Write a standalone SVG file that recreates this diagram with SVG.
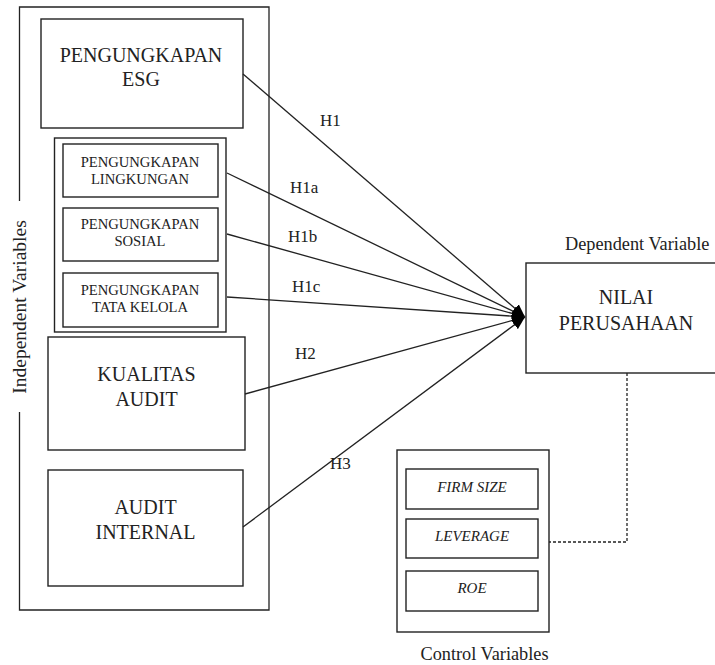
<svg xmlns="http://www.w3.org/2000/svg" width="715" height="665" viewBox="0 0 715 665" font-family="'Liberation Serif', 'DejaVu Serif', serif">
<defs>
<style>
.box{fill:#fff;stroke:#222;stroke-width:1.4}
.ln{fill:none;stroke:#222;stroke-width:1.3}
.t{fill:#222;text-anchor:middle}
.big{font-size:20px}
.sm{font-size:14.6px}
.lab{fill:#222;font-size:17px}
.cap{fill:#222;font-size:18.3px}
.it{font-style:italic;font-size:15px}
</style>
<marker id="ah" markerUnits="userSpaceOnUse" markerWidth="14" markerHeight="12" refX="13" refY="6" orient="auto">
<path d="M0,0.5 L13,6 L0,11.5 z" fill="#000"/>
</marker>
</defs>
<rect width="715" height="665" fill="#fff"/>

<g id="independent-frame">
<path class="ln" d="M19.5,201 V7 H269 V610 H19.5 V412"/>
<text class="cap" style="font-size:19.5px" text-anchor="middle" transform="translate(25.5,307) rotate(-90)">Independent Variables</text>
</g>

<g id="esg">
<rect class="box" x="41" y="19" width="202" height="109"/>
<text class="t big" x="141" y="62">PENGUNGKAPAN</text>
<text class="t big" x="141" y="86">ESG</text>
</g>

<g id="esg-group">
<rect class="box" x="54.5" y="138" width="171.5" height="194"/>
</g>
<g id="lingkungan">
<rect class="box" x="63" y="144" width="155" height="53"/>
<text class="t sm" x="140" y="167">PENGUNGKAPAN</text>
<text class="t sm" x="140" y="184">LINGKUNGAN</text>
</g>
<g id="sosial">
<rect class="box" x="63" y="208" width="155" height="53"/>
<text class="t sm" x="140" y="229">PENGUNGKAPAN</text>
<text class="t sm" x="140" y="246">SOSIAL</text>
</g>
<g id="tatakelola">
<rect class="box" x="63" y="273" width="155" height="54"/>
<text class="t sm" x="140" y="295">PENGUNGKAPAN</text>
<text class="t sm" x="140" y="312">TATA KELOLA</text>
</g>

<g id="kualitas-audit">
<rect class="box" x="48" y="337" width="197" height="113"/>
<text class="t big" x="146.5" y="381">KUALITAS</text>
<text class="t big" x="146.5" y="406">AUDIT</text>
</g>

<g id="audit-internal">
<rect class="box" x="48" y="470" width="195" height="116"/>
<text class="t big" x="145.5" y="514">AUDIT</text>
<text class="t big" x="145.5" y="539">INTERNAL</text>
</g>

<g id="nilai-perusahaan">
<text class="cap" x="565" y="250">Dependent Variable</text>
<rect class="box" x="526" y="263" width="204" height="110"/>
<text class="t big" x="626" y="304">NILAI</text>
<text class="t big" x="626" y="330">PERUSAHAAN</text>
</g>

<g id="control-variables">
<rect class="box" x="397" y="450" width="152" height="182"/>
<rect class="box" x="406" y="469" width="132" height="40"/>
<rect class="box" x="406" y="519" width="132" height="39"/>
<rect class="box" x="406" y="571" width="132" height="40"/>
<text class="t it" x="472" y="492">FIRM SIZE</text>
<text class="t it" x="472" y="541">LEVERAGE</text>
<text class="t it" x="472" y="593">ROE</text>
<text class="cap" text-anchor="middle" x="484.5" y="660">Control Variables</text>
</g>

<g id="connectors">
<line class="ln" x1="243" y1="74" x2="525" y2="317" marker-end="url(#ah)"/>
<line class="ln" x1="227" y1="173" x2="525" y2="317" marker-end="url(#ah)"/>
<line class="ln" x1="227" y1="234" x2="525" y2="317" marker-end="url(#ah)"/>
<line class="ln" x1="227" y1="297" x2="525" y2="317" marker-end="url(#ah)"/>
<line class="ln" x1="245" y1="394" x2="525" y2="317" marker-end="url(#ah)"/>
<line class="ln" x1="243" y1="527" x2="525" y2="317" marker-end="url(#ah)"/>
<path class="ln" d="M627,373 V542 H549" stroke-dasharray="3,2" stroke-width="1.2"/>
<text class="lab" x="320" y="126">H1</text>
<text class="lab" x="290" y="193">H1a</text>
<text class="lab" x="288" y="242">H1b</text>
<text class="lab" x="292" y="292">H1c</text>
<text class="lab" x="295" y="359">H2</text>
<text class="lab" x="330" y="469">H3</text>
</g>
</svg>
